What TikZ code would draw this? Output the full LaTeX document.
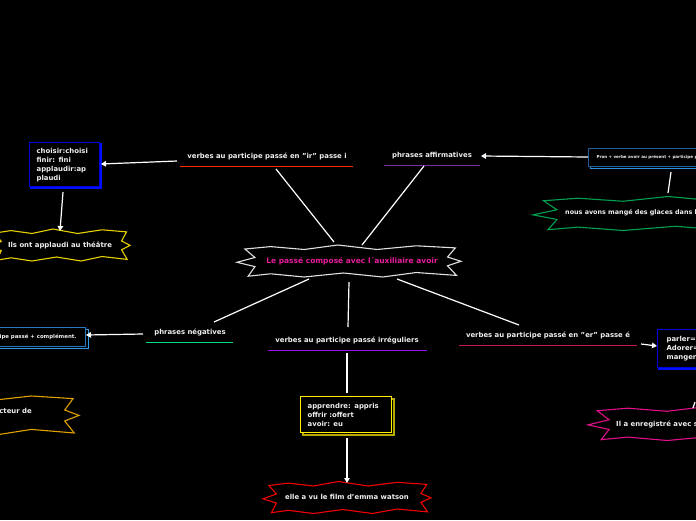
\documentclass[tikz,border=0pt]{standalone}
\usepackage{fontspec}
\setmainfont{DejaVu Sans}
\usetikzlibrary{arrows.meta}
\definecolor{txt}{HTML}{F0F0F0}
\definecolor{cmag}{HTML}{E81C9C}
\definecolor{uir}{HTML}{FF2A00}
\definecolor{uaff}{HTML}{7A30A8}
\definecolor{uneg}{HTML}{00E07A}
\definecolor{uirr}{HTML}{9A10F0}
\definecolor{uer}{HTML}{C8185A}
\definecolor{bblue}{HTML}{0000D8}
\definecolor{bblueS}{HTML}{0010FF}
\definecolor{bteal}{HTML}{1E5E98}
\definecolor{btealS}{HTML}{2E90E0}
\definecolor{bltl}{HTML}{2878C0}
\definecolor{bltlS}{HTML}{2E9AE8}
\definecolor{byel}{HTML}{FFF000}
\definecolor{byelS}{HTML}{B8A800}
\definecolor{sgold}{HTML}{E8D000}
\definecolor{sgreen}{HTML}{00A050}
\definecolor{sorange}{HTML}{E0A000}
\definecolor{sred}{HTML}{F00000}
\definecolor{smag}{HTML}{E0108A}
\definecolor{tipblue}{HTML}{60B8FF}
\newcommand{\burstshape}[5]{%
  \begin{scope}[shift={(#1,#2)}, xscale=#3, yscale=#4]
    \draw[#5, line width=1.1pt, fill=black, line join=miter]
      (-0.93,-0.75) -- (-0.7,-0.9) -- (-0.4,-0.72) -- (-0.1,-1) -- (0.25,-0.72)
      -- (0.6,-0.95) -- (0.95,-0.82) -- (0.88,-0.25) -- (1,0.02) -- (0.88,0.3)
      -- (0.96,0.9) -- (0.6,0.72) -- (0.3,1) -- (-0.05,0.75) -- (-0.4,1)
      -- (-0.7,0.8) -- (-0.9,0.95) -- (-0.84,0.35) -- (-1,0.08) -- (-0.84,-0.22) -- cycle;
  \end{scope}}
\tikzset{
  lbl/.style={inner sep=0pt, text=txt, font=\fontsize{6.9}{9}\selectfont\bfseries},
  boxtxt/.style={lbl, align=left, fill=black, line width=1.2pt, inner ysep=0pt},
  conn/.style={draw=white, line width=1.2pt},
  arr/.style={conn, -{Triangle[length=5pt,width=5.5pt]}},
  uline/.style={line width=1pt}
}
\begin{document}
\begin{tikzpicture}[x=1pt,y=-1pt]
\useasboundingbox (0,0) rectangle (696,520);
\fill[black] (0,0) rectangle (696,520);
\clip (0,0) rectangle (696,520);

% bursts
\burstshape{349}{261}{112}{16}{draw=white!88!black}
\node[lbl, text=cmag, font=\fontsize{7.5}{9}\selectfont\bfseries] (center) at (352,261) {Le passé composé avec l´auxiliaire avoir};

\burstshape{60}{245}{70}{16}{draw=sgold}
\node[lbl] (ils) at (60,245) {Ils ont applaudi au théâtre};

\burstshape{683}{213.5}{150}{17}{draw=sgreen}
\node[lbl, anchor=west, font=\fontsize{6.4}{9}\selectfont\bfseries] (nous) at (565,213) {nous avons mangé des glaces dans le parc};

\burstshape{-40}{415}{119}{20}{draw=sorange}
\node[lbl, anchor=east] (acteur) at (32,411) {acteur de};

\burstshape{720}{423.5}{132}{17}{draw=smag}
\node[lbl, anchor=west] (il) at (616,424) {Il a enregistré avec son téléphone};

\burstshape{347}{497.5}{84}{16}{draw=sred}
\node[lbl] (elle) at (347,497) {elle a vu le film d'emma watson};

% labels with underlines
\node[lbl] (ir) at (267,156) {verbes au participe passé en "ir" passe i};
\draw[uline, uir] (180,166) -- (353,166);
\node[lbl] (aff) at (432,156) {phrases affirmatives};
\draw[uline, uaff] (384,165) -- (480,165);
\node[lbl] (neg) at (190,332) {phrases négatives};
\draw[uline, uneg] (146,342) -- (233,342);
\node[lbl] (irr) at (347,340) {verbes au participe passé irréguliers};
\draw[uline, uirr] (268,350) -- (427,350);
\node[lbl] (er) at (548,335) {verbes au participe passé en "er" passe é};
\draw[uline, uer] (459,345) -- (637,345);

% boxes
\draw[bblueS, line width=1.2pt] (31,144) rectangle (101,188);
\node[boxtxt, draw=bblue, anchor=north west, minimum height=44pt, text width=56pt, inner xsep=7pt] (b1) at (29,142) {choisir:choisi\\finir: fini\\applaudir:ap\\plaudi};

\draw[btealS, line width=1pt] (590,150) rectangle (760,168);
\node[boxtxt, draw=bteal, line width=1pt, anchor=west, minimum height=18pt, inner xsep=8pt, font=\fontsize{4.1}{5}\selectfont\bfseries] (pron) at (588,157) {Pron + verbe avoir au présent + participe passé + complément.};

\draw[bltlS, line width=1pt] (-200,329) rectangle (88,348);
\node[boxtxt, draw=bltl, line width=1pt, anchor=east, minimum height=19pt, inner xsep=9pt, font=\fontsize{5.4}{6}\selectfont\bfseries] (pneg) at (86,336.5) {Pron + ne + verbe avoir au présent + pas + participe passé + complément.};

\draw[byelS, line width=1.2pt] (303,399) rectangle (394,435);
\node[boxtxt, draw=byel, anchor=north west, minimum height=36pt, text width=77pt, inner xsep=7pt] (irrbox) at (300,396) {apprendre: appris\\offrir :offert\\avoir: eu};

\draw[bblueS, line width=1.2pt] (659,331) rectangle (760,369);
\node[boxtxt, draw=bblue, anchor=north west, minimum height=38pt, text width=60pt, inner xsep=9pt] (erbox) at (657,329) {parler=parlé\\Adorer=adoré\\manger=mangé};

% connector endpoints
\coordinate (irA) at (177,161);   \coordinate (b1R) at (101,164);
\coordinate (b1B) at (63,192);    \coordinate (ilsT) at (60,231);
\coordinate (pronL) at (588,157); \coordinate (affR) at (481,156);
\coordinate (pronB) at (671,172); \coordinate (nousT) at (668,193);
\coordinate (irD) at (276,169);   \coordinate (cenA) at (334,242);
\coordinate (affD) at (424,166);  \coordinate (cenB) at (362,245);
\coordinate (negU) at (214,322);  \coordinate (cenC) at (309,279);
\coordinate (negL) at (143,334);  \coordinate (pnegR) at (86,335);
\coordinate (cenD) at (349,282);  \coordinate (irrU) at (348,327);
\coordinate (irrD) at (347,353);  \coordinate (irrbT) at (347,393);
\coordinate (irrbB) at (347,438); \coordinate (elleT) at (347,483);
\coordinate (cenE) at (397,279);  \coordinate (erU) at (519,325);
\coordinate (erR) at (641,344);   \coordinate (erbL) at (657,346);
\coordinate (erbB) at (695,402);  \coordinate (ilT) at (693,408);

\draw[arr] (irA) -- (b1R);
\draw[arr] (b1B) -- (ilsT);
\draw[conn, -{Triangle[length=5pt,width=5.5pt,fill=tipblue]}] (pronL) -- (affR);
\draw[conn] (pronB) -- (nousT);
\draw[conn] (irD) -- (cenA);
\draw[conn] (affD) -- (cenB);
\draw[conn] (negU) -- (cenC);
\draw[arr] (negL) -- (pnegR);
\draw[conn] (cenD) -- (irrU);
\draw[conn] (irrD) -- (irrbT);
\draw[arr] (irrbB) -- (elleT);
\draw[conn] (cenE) -- (erU);
\draw[arr] (erR) -- (erbL);
\draw[conn] (erbB) -- (ilT);
\end{tikzpicture}
\end{document}
